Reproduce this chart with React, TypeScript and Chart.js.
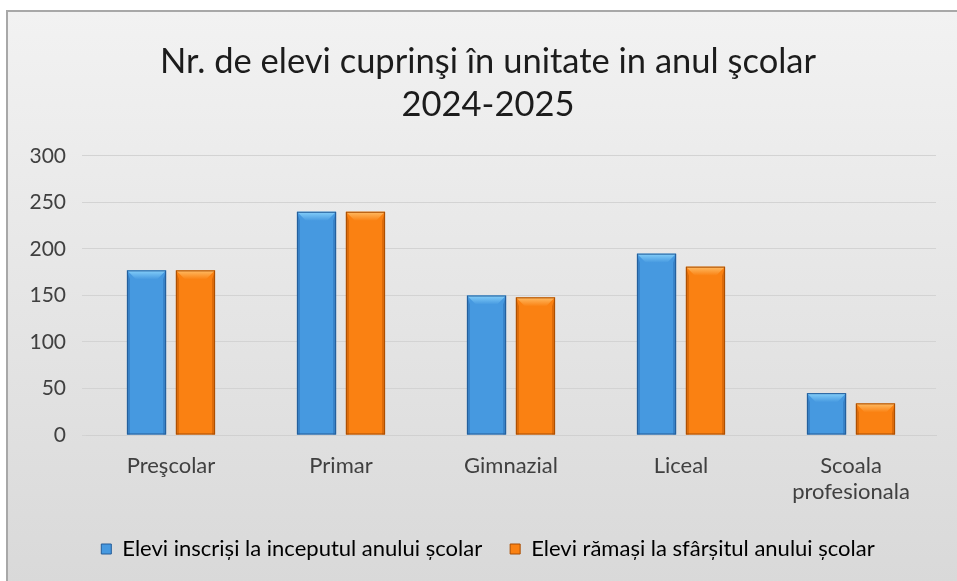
import React, { useEffect, useRef } from "react";
import { Chart, registerables } from "chart.js";

Chart.register(...registerables);

const categories: (string | string[])[] = ["Preşcolar", "Primar", "Gimnazial", "Liceal", ["Scoala", "profesionala"]];
const seriesNames = ["Elevi inscriși la inceputul anului școlar", "Elevi rămași la sfârșitul anului școlar"];
const enrolledStart = [177, 240, 150, 195, 45];
const remainingEnd = [177, 240, 148, 181, 34];
const yTicks = [0, 50, 100, 150, 200, 250, 300];
const titleLines = ["Nr. de elevi cuprinşi în unitate in anul şcolar", "2024-2025"];

const FONT = "Lato, 'Noto Sans', sans-serif";

const palettes = [
  { edge: "#2c6eb0", main: "#4699e0", light: "#86d0fa", dark: "#245d99" },
  { edge: "#c35a04", main: "#fa8112", light: "#ffbd66", dark: "#a94d02" },
];

const bevelPlugin = {
  id: "bevel",
  afterDatasetsDraw(chart: any) {
    const ctx = chart.ctx;
    chart.data.datasets.forEach((_ds: any, i: number) => {
      const meta = chart.getDatasetMeta(i);
      const p = palettes[i];
      meta.data.forEach((bar: any) => {
        const { x, y, width, base } = bar.getProps(["x", "y", "width", "base"], true);
        const l = x - width / 2;
        const r = x + width / 2;
        const h = base - y;
        const d = Math.min(9, h / 2);
        ctx.save();
        const g = ctx.createLinearGradient(0, y, 0, y + d);
        g.addColorStop(0, p.light);
        g.addColorStop(1, p.main);
        ctx.fillStyle = g;
        ctx.beginPath();
        ctx.moveTo(l, y);
        ctx.lineTo(r, y);
        ctx.lineTo(r - d, y + d);
        ctx.lineTo(l + d, y + d);
        ctx.closePath();
        ctx.fill();
        ctx.fillStyle = p.edge;
        ctx.globalAlpha = 0.55;
        ctx.beginPath();
        ctx.moveTo(l, y);
        ctx.lineTo(l + 3, y + d);
        ctx.lineTo(l + 3, base);
        ctx.lineTo(l, base);
        ctx.closePath();
        ctx.fill();
        ctx.beginPath();
        ctx.moveTo(r, y);
        ctx.lineTo(r - 3, y + d);
        ctx.lineTo(r - 3, base);
        ctx.lineTo(r, base);
        ctx.closePath();
        ctx.fill();
        ctx.globalAlpha = 1;
        ctx.strokeStyle = p.dark;
        ctx.lineWidth = 1;
        ctx.strokeRect(l + 0.5, y + 0.5, width - 1, h - 1);
        ctx.restore();
      });
    });
  },
};

function barFill(i: number) {
  return (c: any) => {
    const el = c.element;
    const p = palettes[i];
    if (!el || el.width == null) return p.main;
    const { x, width } = el;
    const g = c.chart.ctx.createLinearGradient(x - width / 2, 0, x + width / 2, 0);
    g.addColorStop(0, p.edge);
    g.addColorStop(0.15, p.main);
    g.addColorStop(0.85, p.main);
    g.addColorStop(1, p.edge);
    return g;
  };
}

export default function App() {
  const ref = useRef<HTMLCanvasElement>(null);
  useEffect(() => {
    if (!ref.current) return;
    const chart = new Chart(ref.current, {
      type: "bar",
      data: {
        labels: categories,
        datasets: [
          {
            label: seriesNames[0],
            data: enrolledStart,
            backgroundColor: barFill(0),
            categoryPercentage: 0.576,
            barPercentage: 0.8,
          },
          {
            label: seriesNames[1],
            data: remainingEnd,
            backgroundColor: barFill(1),
            categoryPercentage: 0.576,
            barPercentage: 0.8,
          },
        ],
      },
      options: {
        responsive: false,
        animation: false,
        devicePixelRatio: 1,
        layout: { padding: { left: 0, right: 0, top: 0, bottom: 11 } },
        plugins: {
          title: {
            display: true,
            text: titleLines,
            color: "#1c1c1c",
            font: { family: FONT, size: 34.5, weight: "normal", lineHeight: 1.246 },
            padding: { top: 28, bottom: 30 },
          },
          legend: {
            position: "bottom",
            labels: {
              color: "#262626",
              font: { family: FONT, size: 22 },
              boxWidth: 10,
              boxHeight: 10,
              padding: 28,
              generateLabels: () =>
                seriesNames.map((n, i) => ({
                  text: n,
                  fillStyle: palettes[i].main,
                  strokeStyle: palettes[i].dark,
                  lineWidth: 1,
                  datasetIndex: i,
                  hidden: false,
                })),
            },
          },
          tooltip: { enabled: false },
        },
        scales: {
          x: {
            grid: { display: false },
            border: { display: true, color: "#d0d0d0" },
            afterFit: (s: any) => {
              s.height = 75;
            },
            ticks: {
              color: "#404040",
              font: { family: FONT, size: 22, lineHeight: 1.18 },
              padding: 10,
              maxRotation: 0,
              autoSkip: false,
            },
          },
          y: {
            min: 0,
            max: 300,
            afterBuildTicks: (s: any) => {
              s.ticks = yTicks.map((v) => ({ value: v }));
            },
            afterFit: (s: any) => {
              s.width = 78;
            },
            grid: { color: "#d3d3d3", lineWidth: 1, drawTicks: true, tickLength: 4, tickColor: "#d3d3d3" },
            border: { display: false },
            ticks: {
              color: "#404040",
              font: { family: FONT, size: 21 },
              padding: 16,
            },
          },
          yRightSpacer: {
            type: "linear",
            position: "right",
            display: true,
            grid: { display: false, drawOnChartArea: false },
            border: { display: false },
            ticks: { display: false },
            afterFit: (s: any) => {
              s.width = 32;
            },
          },
        },
      },
      plugins: [bevelPlugin],
    });
    return () => chart.destroy();
  }, []);
  return (
    <div
      style={{
        position: "absolute",
        left: 6,
        top: 10,
        width: 962,
        height: 571,
        borderLeft: "2px solid #a8a8a8",
        borderTop: "2px solid #a8a8a8",
        background: "linear-gradient(#f2f2f2, #d9d9d9)",
        overflow: "hidden",
      }}
    >
      <canvas ref={ref} width={960} height={569} style={{ display: "block" }} />
    </div>
  );
}
